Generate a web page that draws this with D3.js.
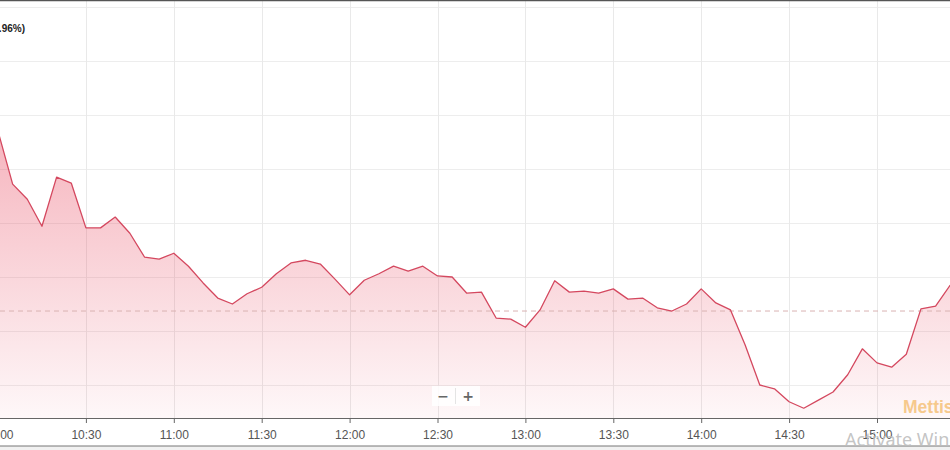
<!DOCTYPE html>
<html>
<head>
<meta charset="utf-8">
<script src="https://cdn.jsdelivr.net/npm/d3@7"></script>
<style>
  body { margin: 0; background: #fff; }
  svg { display: block; }
</style>
</head>
<body>
<div id="chart"></div>
<script>

// 5 minute closes, 10:00 to 15:25
var startTime = "10:00"
var prices = [
  17747.0, 17737.2, 17734.4, 17729.4, 17738.5, 17737.4, 17729.1, 17729.1, 17731.1, 17728.1,
  17723.7, 17723.3, 17724.4, 17722.0, 17718.9, 17716.1, 17715.0, 17716.9, 17718.1, 17720.6,
  17722.6, 17723.1, 17722.4, 17719.6, 17716.7, 17719.4, 17720.6, 17722.0, 17721.1, 17722.0,
  17720.2, 17720.0, 17717.0, 17717.2, 17712.4, 17712.2, 17710.7, 17713.9, 17719.3, 17717.2,
  17717.4, 17717.0, 17717.8, 17715.9, 17716.1, 17714.3, 17713.7, 17715.0, 17717.8, 17715.2,
  17713.9, 17707.4, 17700.0, 17699.3, 17696.9, 17695.7, 17697.2, 17698.7, 17701.9, 17706.7,
  17704.1, 17703.3, 17705.7, 17714.1, 17714.6, 17718.5
]
var prevClose = 17713.7
var yTicks = [17700, 17710, 17720, 17730, 17740, 17750, 17760, 17770]
var xTickLabels = ["10:00", "10:30", "11:00", "11:30", "12:00", "12:30", "13:00", "13:30", "14:00", "14:30", "15:00"]
var headerText = "17,747.00 (+0.96%)"

var width = 950, height = 450
var plotBottom = 418

var parseTime = d3.timeParse("%H:%M")
var t0 = parseTime(startTime)
var data = prices.map(function (p, i) {
  return { time: d3.timeMinute.offset(t0, i * 5), price: p }
})

var x = d3.scaleTime()
  .domain([parseTime("10:00"), parseTime("15:00")])
  .range([-2, 877])

var y = d3.scaleLinear()
  .domain([17700, 17770])
  .range([385, 7])

var svg = d3.select("#chart").append("svg")
  .attr("width", width)
  .attr("height", height)

// grey strip below the frame
svg.append("rect").attr("x", 0).attr("y", 446).attr("width", width).attr("height", 4).attr("fill", "#f1f1f1")

var defs = svg.append("defs")
var grad = defs.append("linearGradient")
  .attr("id", "fillGrad")
  .attr("gradientUnits", "userSpaceOnUse")
  .attr("x1", 0).attr("x2", 0)
  .attr("y1", 120).attr("y2", plotBottom)
grad.append("stop").attr("offset", "0%").attr("stop-color", "#e8485f").attr("stop-opacity", 0.42)
grad.append("stop").attr("offset", "100%").attr("stop-color", "#e8485f").attr("stop-opacity", 0.04)

defs.append("clipPath").attr("id", "plotClip")
  .append("rect").attr("x", 0).attr("y", 1).attr("width", width).attr("height", plotBottom - 1)

// grid
svg.append("g").selectAll("line")
  .data(yTicks)
  .join("line")
  .attr("x1", 0).attr("x2", width)
  .attr("y1", d => Math.round(y(d)) + 0.5)
  .attr("y2", d => Math.round(y(d)) + 0.5)
  .attr("stroke", "#ededed")

var tickTimes = xTickLabels.map(parseTime)
svg.append("g").selectAll("line")
  .data(tickTimes)
  .join("line")
  .attr("x1", d => Math.round(x(d)) + 0.5)
  .attr("x2", d => Math.round(x(d)) + 0.5)
  .attr("y1", 1).attr("y2", plotBottom)
  .attr("stroke", "#e9e9e9")

var plot = svg.append("g").attr("clip-path", "url(#plotClip)")

var area = d3.area()
  .x(d => x(d.time))
  .y0(plotBottom)
  .y1(d => y(d.price))

var line = d3.line()
  .x(d => x(d.time))
  .y(d => y(d.price))

plot.append("path")
  .datum(data)
  .attr("d", area)
  .attr("fill", "url(#fillGrad)")

// previous close
plot.append("line")
  .attr("x1", 0).attr("x2", width)
  .attr("y1", y(prevClose)).attr("y2", y(prevClose))
  .attr("stroke", "#d9b3b3")
  .attr("stroke-dasharray", "5,4")

plot.append("path")
  .datum(data)
  .attr("d", line)
  .attr("fill", "none")
  .attr("stroke", "#d4485f")
  .attr("stroke-width", 1.3)
  .attr("stroke-linejoin", "round")

// x axis
var xAxis = d3.axisBottom(x)
  .tickValues(tickTimes)
  .tickSize(5)
  .tickFormat(d3.timeFormat("%H:%M"))

var axisG = svg.append("g")
  .attr("transform", "translate(0," + plotBottom + ")")
  .call(xAxis)
axisG.select(".domain").remove()
axisG.selectAll(".tick line").attr("stroke", "#666")
axisG.selectAll(".tick text")
  .attr("fill", "#555")
  .attr("font-family", "Liberation Sans, Arial, sans-serif")
  .attr("font-size", 12)
  .attr("dy", "1.05em")

svg.append("line")
  .attr("x1", 0).attr("x2", width)
  .attr("y1", plotBottom + 0.5).attr("y2", plotBottom + 0.5)
  .attr("stroke", "#666")

// frame lines
svg.append("line").attr("x1", 0).attr("x2", width).attr("y1", 0.5).attr("y2", 0.5)
  .attr("stroke", "#555").attr("stroke-width", 1.5)
svg.append("line").attr("x1", 0).attr("x2", width).attr("y1", 446).attr("y2", 446)
  .attr("stroke", "#777")

// header label, cut at the left edge
svg.append("text")
  .attr("x", 25).attr("y", 32)
  .attr("text-anchor", "end")
  .attr("font-family", "Liberation Sans, Arial, sans-serif")
  .attr("font-size", 10)
  .attr("font-weight", "bold")
  .attr("fill", "#222")
  .text(headerText)

// zoom buttons
var zoomG = svg.append("g")
zoomG.append("rect").attr("x", 432).attr("y", 386).attr("width", 48).attr("height", 20)
  .attr("fill", "#fff").attr("fill-opacity", 0.85)
zoomG.append("line").attr("x1", 455.5).attr("x2", 455.5).attr("y1", 388).attr("y2", 404)
  .attr("stroke", "#e4e4e4")
zoomG.append("text").attr("x", 443).attr("y", 401).attr("text-anchor", "middle")
  .attr("font-family", "DejaVu Sans, sans-serif").attr("font-size", 14).attr("font-weight", "bold")
  .attr("fill", "#666").text("\u2212")
zoomG.append("text").attr("x", 468).attr("y", 401).attr("text-anchor", "middle")
  .attr("font-family", "DejaVu Sans, sans-serif").attr("font-size", 14).attr("font-weight", "bold")
  .attr("fill", "#666").text("+")

// watermarks
svg.append("text")
  .attr("x", 903).attr("y", 413)
  .attr("font-family", "Liberation Sans, Arial, sans-serif")
  .attr("font-size", 17.5)
  .attr("font-weight", "bold")
  .attr("fill", "#f6c98c")
  .text("Mettis Global")

svg.append("text")
  .attr("x", 845).attr("y", 446)
  .attr("font-family", "Noto Sans, sans-serif")
  .attr("font-size", 18)
  .attr("fill", "#bdbdbd")
  .attr("fill-opacity", 0.9)
  .text("Activate Windows")

</script>
</body>
</html>
